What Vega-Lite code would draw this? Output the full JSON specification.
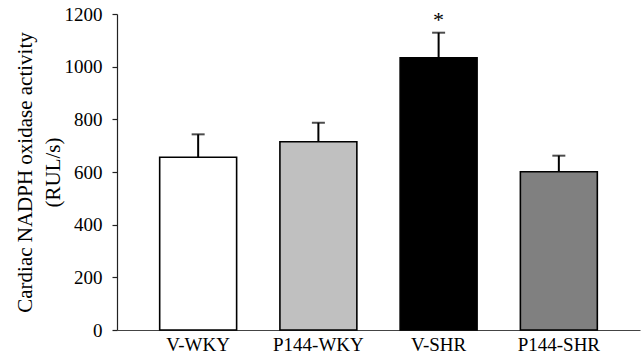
{
  "$schema": "https://vega.github.io/schema/vega-lite/v6.json",
  "width": 523,
  "height": 316,
  "autosize": "none",
  "padding": {"left": 117, "top": 14, "right": 1, "bottom": 30},
  "background": "white",
  "config": {
    "view": {"stroke": null},
    "font": "Liberation Serif"
  },
  "data": {
    "values": [
      {"group": "V-WKY", "mean": 656, "upper": 743, "sig": ""},
      {"group": "P144-WKY", "mean": 715, "upper": 787, "sig": ""},
      {"group": "V-SHR", "mean": 1034, "upper": 1129, "sig": "*"},
      {"group": "P144-SHR", "mean": 601, "upper": 662, "sig": ""}
    ]
  },
  "encoding": {
    "x": {
      "field": "group",
      "type": "nominal",
      "sort": ["V-WKY", "P144-WKY", "V-SHR", "P144-SHR"],
      "scale": {"paddingInner": 0.36, "paddingOuter": 0.355},
      "axis": {
        "title": null,
        "labelAngle": 0,
        "ticks": false,
        "domainColor": "#444444",
        "domainWidth": 1.2,
        "labelFont": "Liberation Serif",
        "labelFontSize": 19,
        "labelColor": "black",
        "labelPadding": 5
      }
    }
  },
  "layer": [
    {
      "mark": {"type": "rule", "color": "black", "strokeWidth": 2},
      "encoding": {
        "y": {"field": "mean", "type": "quantitative"},
        "y2": {"field": "upper"}
      }
    },
    {
      "mark": {"type": "tick", "color": "black", "size": 13, "thickness": 2, "orient": "horizontal"},
      "encoding": {
        "y": {"field": "upper", "type": "quantitative"}
      }
    },
    {
      "mark": {"type": "bar", "stroke": "black", "strokeWidth": 1.6},
      "encoding": {
        "y": {
          "field": "mean",
          "type": "quantitative",
          "scale": {"domain": [0, 1200], "nice": false},
          "axis": {
            "values": [0, 200, 400, 600, 800, 1000, 1200],
            "format": "d",
            "grid": false,
            "domainColor": "#222222",
            "domainWidth": 1.2,
            "tickColor": "#222222",
            "tickSize": 5,
            "tickWidth": 1.2,
            "labelFont": "Liberation Serif",
            "labelFontSize": 19,
            "labelColor": "black",
            "labelPadding": 10,
            "title": ["Cardiac NADPH oxidase activity", "(RUL/s)"],
            "titleFont": "Liberation Serif",
            "titleFontSize": 21,
            "titleFontWeight": "normal",
            "titleColor": "black",
            "titleLineHeight": 28,
            "titleAngle": -90,
            "titleAlign": "center",
            "titleBaseline": "middle",
            "titleX": -92,
            "titleY": 158
          }
        },
        "fill": {
          "field": "group",
          "type": "nominal",
          "scale": {
            "domain": ["V-WKY", "P144-WKY", "V-SHR", "P144-SHR"],
            "range": ["#ffffff", "#c0c0c0", "#000000", "#808080"]
          },
          "legend": null
        }
      }
    },
    {
      "mark": {"type": "text", "fontSize": 22, "dy": -13, "baseline": "middle", "font": "Liberation Serif", "color": "black"},
      "encoding": {
        "y": {"field": "upper", "type": "quantitative"},
        "text": {"field": "sig"}
      }
    }
  ]
}
